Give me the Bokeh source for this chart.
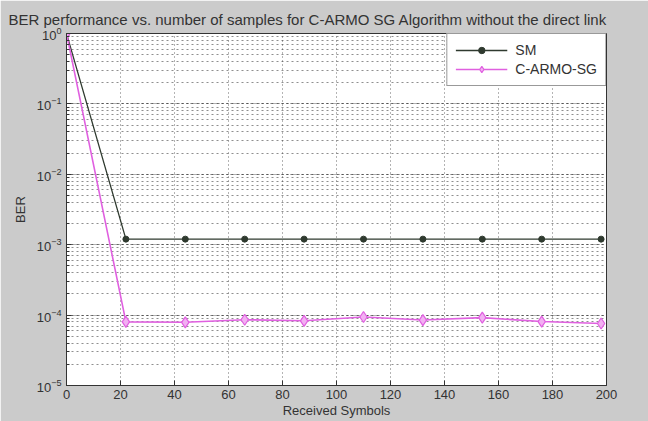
from bokeh.plotting import figure
from bokeh.models import Legend, LegendItem, FixedTicker, LogTicker
from bokeh.embed import file_html
from bokeh.resources import INLINE

# ---- data ----
samples = [0, 22, 44, 66, 88, 110, 132, 154, 176, 198]
ber_sm = [1.0, 1.2e-3, 1.2e-3, 1.2e-3, 1.2e-3, 1.2e-3, 1.2e-3, 1.2e-3, 1.2e-3, 1.2e-3]
ber_carmo = [1.0, 8.0e-5, 7.9e-5, 8.6e-5, 8.3e-5, 9.4e-5, 8.5e-5, 9.2e-5, 8.1e-5, 7.6e-5]
x_ticks = [0, 20, 40, 60, 80, 100, 120, 140, 160, 180, 200]
y_ticks = [1e-5, 1e-4, 1e-3, 1e-2, 1e-1, 1.0]
title_text = "BER performance vs. number of samples for C-ARMO SG Algorithm without the direct link"
series_names = ["SM", "C-ARMO-SG"]

BG = "#cbcbcb"
FONT = "Liberation Sans"
TXT = "#333333"
SM_COLOR = "#2f3a2f"
CA_COLOR = "#e060e0"

p = figure(width=648, height=421, y_axis_type="log",
           x_range=(0, 200), y_range=(1e-5, 1.0),
           output_backend="svg", toolbar_location=None,
           min_border_left=66, min_border_right=42, min_border_top=33, min_border_bottom=36,
           background_fill_color="white", border_fill_color=BG,
           outline_line_color="#333333")

p.title.text = title_text
p.title.align = "left"
p.title.offset = -58
p.title.text_font = FONT
p.title.text_font_size = "15px"
p.title.text_font_style = "normal"
p.title.text_color = TXT
p.title.standoff = 11

# axes
for ax in [p.xaxis[0], p.yaxis[0]]:
    ax.major_label_text_font = FONT
    ax.major_label_text_font_size = "13px"
    ax.major_label_text_color = TXT
    ax.axis_label_text_font = FONT
    ax.axis_label_text_font_size = "13px"
    ax.axis_label_text_font_style = "normal"
    ax.axis_label_text_color = TXT
    ax.major_tick_in = 5
    ax.major_tick_out = 0
    ax.minor_tick_in = 3
    ax.minor_tick_out = 0
    ax.axis_line_color = "#333333"
    ax.major_tick_line_color = "#333333"
    ax.minor_tick_line_color = "#333333"

p.xaxis[0].ticker = FixedTicker(ticks=x_ticks)
p.xaxis[0].axis_label = "Received Symbols"
p.xaxis[0].major_label_standoff = 4
p.xaxis[0].axis_label_standoff = 1
p.xaxis[0].minor_tick_line_color = None

p.yaxis[0].ticker = LogTicker(num_minor_ticks=10, desired_num_ticks=6)
p.yaxis[0].axis_label = "BER"
p.yaxis[0].major_label_standoff = 5
p.yaxis[0].axis_label_standoff = 6

# grids (MATLAB style dotted)
p.xgrid.ticker = FixedTicker(ticks=x_ticks)
p.xgrid.grid_line_color = "#444444"
p.xgrid.grid_line_dash = "1 3"
p.xgrid.grid_line_alpha = 0.8
p.ygrid.grid_line_color = "#444444"
p.ygrid.grid_line_dash = "1 3"
p.ygrid.grid_line_alpha = 0.8
p.ygrid.minor_grid_line_color = "#444444"
p.ygrid.minor_grid_line_dash = "2 3"
p.ygrid.minor_grid_line_alpha = 0.6

# series
l1 = p.line(samples, ber_sm, line_color=SM_COLOR, line_width=1.3)
m1 = p.scatter(samples, ber_sm, marker="circle", size=6, fill_color=SM_COLOR, line_color=SM_COLOR)
l2 = p.line(samples, ber_carmo, line_color=CA_COLOR, line_width=1.6)
m2 = p.scatter(samples, ber_carmo, marker="diamond", size=11, fill_color="#f2b0f2",
               line_color=CA_COLOR, line_width=1.2)

legend = Legend(items=[LegendItem(label=series_names[0], renderers=[l1, m1]),
                       LegendItem(label=series_names[1], renderers=[l2, m2])],
                location="top_right", margin=0, padding=8, spacing=3,
                glyph_width=52, glyph_height=16, label_standoff=8,
                label_text_font=FONT, label_text_font_size="14px", label_text_color=TXT,
                border_line_color="#333333", background_fill_color="white",
                background_fill_alpha=1.0)
p.add_layout(legend, "center")

open("out.html", "w").write(file_html(p, INLINE))
